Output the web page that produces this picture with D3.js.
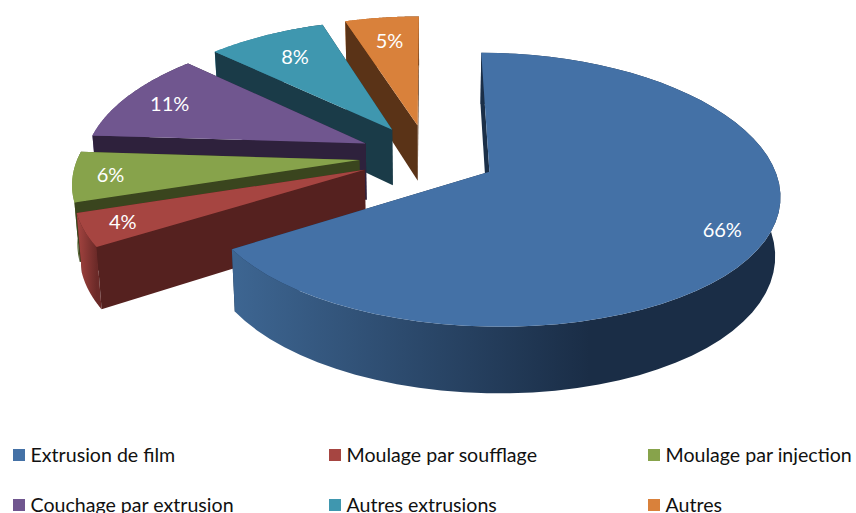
<!DOCTYPE html>
<html lang="fr">
<head>
<meta charset="utf-8">
<style>
  html, body { margin: 0; padding: 0; background: #fff; overflow: hidden; }
  text { font-family: Lato, "Open Sans", sans-serif; }
</style>
<script src="https://cdnjs.cloudflare.com/ajax/libs/d3/7.8.5/d3.min.js"></script>
</head>
<body>
<svg id="chart" width="856" height="513"></svg>
<script>
  var categories = ["Extrusion de film", "Moulage par soufflage", "Moulage par injection",
                    "Couchage par extrusion", "Autres extrusions", "Autres"];
  var values = [66, 4, 6, 11, 8, 5];

  var topColors  = ["#4471a6", "#a64541", "#87a34b", "#70568f", "#3f97af", "#d9813b"];
  var wallColors = ["#1b2f48", "#55211f", "#3a451e", "#2e213c", "#1a3b48", "#5a3317"];
  var arcLight   = ["#3d6591", "#a64541", "#87a34b", "#70568f", "#3f97af", "#d9813b"];
  var arcDark    = ["#1a2d46", "#6b2a28", "#3a451e", "#2e213c", "#1a3b48", "#5a3317"];
  var labelDist  = [0.855, 0.87, 0.87, 0.82, 0.75, 0.76];

  // projection of the tilted disc
  var cx = 428, cy = 156, rx = 281, ry = 130.5, perspX = 0.15, perspY = 0.13, depth = 57, bottomScale = 0.985;
  var explode = 0.245;

  var svg = d3.select("#chart");
  var defs = svg.append("defs");

  var xUnit = d3.scaleLinear().domain([0, 1]).range([0, rx]);
  var yUnit = d3.scaleLinear().domain([0, 1]).range([0, -ry]);

  function project(u, v, z) {
    var sx = 1 / (1 + perspX * v), sy = 1 / (1 + perspY * v);
    var x = xUnit(u) * sx;
    var y = cy + yUnit(v) * sy + (z ? depth * sy : 0);
    return [cx + (z ? x * bottomScale : x), y];
  }

  var line = d3.line();
  var slices = d3.pie().sort(null)(values);

  slices.forEach(function(d, i) {
    var mid = (d.startAngle + d.endAngle) / 2;
    d.ox = Math.sin(mid) * explode;
    d.oy = Math.cos(mid) * explode;
    d.mid = mid;
  });

  function rim(d, z) {
    return d3.range(0, 61).map(function(k) {
      var a = d.startAngle + (d.endAngle - d.startAngle) * k / 60;
      return project(d.ox + Math.sin(a), d.oy + Math.cos(a), z);
    });
  }

  function radialWall(d, a) {
    var ux = d.ox + Math.sin(a), uy = d.oy + Math.cos(a);
    return [project(d.ox, d.oy, 0), project(ux, uy, 0), project(ux, uy, 1), project(d.ox, d.oy, 1)];
  }

  function labelPoint(d, i) {
    return project(d.ox + Math.sin(d.mid) * labelDist[i], d.oy + Math.cos(d.mid) * labelDist[i], 0);
  }

  var g = svg.append("g");

  // painter's order: farthest slice first, the big one last
  var order = [5, 4, 3, 2, 1, 0];

  order.forEach(function(i) {
    var d = slices[i];
    var topRim = rim(d, 0), botRim = rim(d, 1);
    var xs = topRim.map(function(p) { return p[0]; });

    var grad = defs.append("linearGradient")
      .attr("id", "arc" + i)
      .attr("gradientUnits", "userSpaceOnUse")
      .attr("x1", i == 0 ? 237 : d3.min(xs)).attr("x2", i == 0 ? 590 : d3.max(xs))
      .attr("y1", 0).attr("y2", 0);
    grad.append("stop").attr("offset", 0).attr("stop-color", arcLight[i]);
    grad.append("stop").attr("offset", 1).attr("stop-color", arcDark[i]);

    g.append("path").attr("d", line(radialWall(d, d.endAngle)) + "Z").attr("fill", wallColors[i]);
    g.append("path").attr("d", line(topRim.concat(botRim.slice().reverse())) + "Z")
      .attr("fill", "url(#arc" + i + ")");
    g.append("path").attr("d", line(radialWall(d, d.startAngle)) + "Z").attr("fill", wallColors[i]);
    g.append("path").attr("d", line([project(d.ox, d.oy, 0)].concat(topRim)) + "Z")
      .attr("fill", topColors[i]);
  });

  // data labels
  svg.append("g").selectAll("text").data(slices).enter().append("text")
    .attr("x", function(d, i) { return labelPoint(d, i)[0]; })
    .attr("y", function(d, i) { return labelPoint(d, i)[1]; })
    .attr("dy", "0.35em")
    .attr("text-anchor", "middle")
    .attr("fill", "#fff")
    .attr("font-size", 20)
    .text(function(d) { return d.value + "%"; });

  // legend
  var legendX = d3.scaleOrdinal().domain([0, 1, 2]).range([13, 329, 648]);
  var legendY = d3.scaleOrdinal().domain([0, 1]).range([455, 505]);

  var legend = svg.append("g").selectAll("g").data(categories).enter().append("g")
    .attr("transform", function(d, i) {
      return "translate(" + legendX(i % 3) + "," + legendY(Math.floor(i / 3)) + ")";
    });
  legend.append("rect").attr("x", 0).attr("y", -6).attr("width", 12).attr("height", 12)
    .attr("fill", function(d, i) { return topColors[i]; });
  legend.append("text").attr("x", 17.5).attr("y", 0).attr("dy", "0.35em")
    .attr("font-size", 19.6).attr("fill", "#111")
    .text(function(d) { return d; });
</script>
</body>
</html>
